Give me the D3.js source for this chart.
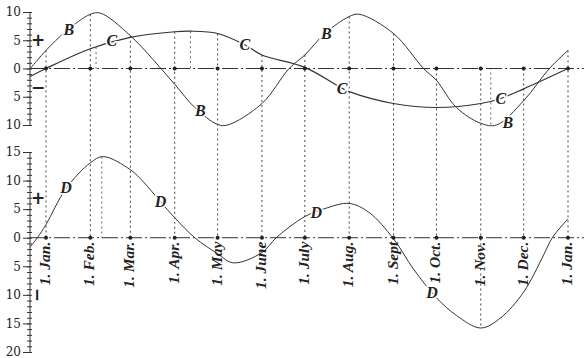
<!DOCTYPE html>
<meta charset="utf-8">
<script src="https://d3js.org/d3.v7.min.js"></script>
<style>
  body { margin: 0; background: #fff; }
  text { fill: #222; }
  .lab { font-family: "Liberation Serif", serif; font-style: italic; font-weight: bold; }
</style>
<div id="chart"></div>
<script>
  // month labels and the dates they stand for
  const months = ["1. Jan.", "1. Feb.", "1. Mar.", "1. Apr.", "1. May", "1. June", "1. July",
                  "1. Aug.", "1. Sept", "1. Oct.", "1. Nov.", "1. Dec.", "1. Jan."];
  const monthDates = ["1900-01-01", "1900-02-01", "1900-03-01", "1900-04-01", "1900-05-01", "1900-06-01",
                      "1900-07-01", "1900-08-01", "1900-09-01", "1900-10-01", "1900-11-01", "1900-12-01", "1901-01-01"];

  // upper diagram, curve B
  const seriesB = [
    ["1899-12-21", 0], ["1900-01-01", 3.2], ["1900-01-15", 6.6], ["1900-02-01", 9.6], ["1900-02-08", 9.8],
    ["1900-03-01", 5.8], ["1900-04-01", -2.8], ["1900-04-15", -6.9], ["1900-05-01", -9.9], ["1900-05-08", -10.0],
    ["1900-06-01", -6.2], ["1900-06-20", 0], ["1900-07-01", 2.4], ["1900-07-15", 6.2], ["1900-08-01", 9.2],
    ["1900-08-08", 9.6], ["1900-09-01", 6.2], ["1900-09-22", 0], ["1900-10-01", -2.1], ["1900-10-15", -6.9],
    ["1900-11-01", -9.7], ["1900-11-12", -10.0], ["1900-12-01", -5.7], ["1900-12-19", 0], ["1901-01-01", 3.2]
  ];
  // upper diagram, curve C
  const seriesC = [
    ["1899-12-21", -1.4], ["1900-01-01", 0], ["1900-02-01", 3.5], ["1900-03-01", 5.5], ["1900-04-01", 6.5],
    ["1900-04-12", 6.6], ["1900-05-01", 6.2], ["1900-05-20", 4.2], ["1900-06-01", 2.4], ["1900-07-01", 0.2],
    ["1900-07-27", -3.5], ["1900-08-01", -4.1], ["1900-09-01", -6.2], ["1900-10-01", -6.9], ["1900-11-01", -6.2],
    ["1900-11-15", -5.3], ["1900-12-01", -3.6], ["1901-01-01", 0]
  ];
  // lower diagram, curve D
  const seriesD = [
    ["1899-12-21", -1.6], ["1899-12-26", 0], ["1900-01-01", 2.3], ["1900-01-15", 8.6], ["1900-02-01", 13.1],
    ["1900-02-10", 14.2], ["1900-03-01", 11.9], ["1900-03-10", 9.8], ["1900-03-22", 6.3], ["1900-04-01", 3.5],
    ["1900-04-15", 0], ["1900-05-01", -2.8], ["1900-05-12", -4.4], ["1900-06-01", -2.6], ["1900-06-11", 0],
    ["1900-07-01", 3.7], ["1900-07-15", 5.1], ["1900-08-01", 6.0], ["1900-08-15", 4.4], ["1900-09-01", -0.2],
    ["1900-09-15", -5.5], ["1900-10-01", -10.5], ["1900-10-15", -13.6], ["1900-11-01", -15.8], ["1900-11-15", -14.0],
    ["1900-12-01", -9.5], ["1900-12-15", -3.0], ["1900-12-21", 0], ["1901-01-01", 3.3]
  ];

  // curve letters written on the curves
  const labelsB = [["1900-01-17", 6.9], ["1900-04-19", -7.4], ["1900-07-16", 6.2], ["1900-11-20", -9.6]];
  const labelsC = [["1900-02-16", 5.0], ["1900-05-20", 4.2], ["1900-07-27", -3.5], ["1900-11-15", -5.3]];
  const labelsD = [["1900-01-15", 8.8], ["1900-03-22", 6.3], ["1900-07-09", 4.5], ["1900-09-28", -9.6]];

  // extra ordinates dropped from turning points
  const extraTop = [["1900-02-05", 3.8], ["1900-04-12", 6.6], ["1900-11-08", -9.9]];
  const extraBottom = [["1900-02-09", 14.2]];

  const topTicks = [10, 5, 0, -5, -10];
  const bottomTicks = [15, 10, 5, 0, -5, -10, -15, -20];

  const width = 584, height = 358;
  const parse = d3.timeParse("%Y-%m-%d");

  const svg = d3.select("#chart").append("svg")
    .attr("width", width)
    .attr("height", height);

  const x = d3.scaleTime()
    .domain([parse("1900-01-01"), parse("1901-01-01")])
    .range([46, 568]);
  const yTop = d3.scaleLinear().domain([-10, 10]).range([125, 12]);
  const yBot = d3.scaleLinear().domain([-20, 15]).range([352, 152]);
  const axisX = 30;

  const valueAt = (series, d) => series.find(p => p[0] === d)[1];

  // dotted ordinates at the months
  const ink = "#333";
  monthDates.forEach((d, i) => {
    const top = Math.min(yTop(0), yTop(valueAt(seriesB, d)), yTop(valueAt(seriesC, d)));
    const bot = Math.max(yBot(0), i === 10 ? yBot(valueAt(seriesD, d)) : yBot(0));
    svg.append("line")
      .attr("x1", x(parse(d))).attr("x2", x(parse(d)))
      .attr("y1", top).attr("y2", bot)
      .attr("stroke", "#444").attr("stroke-width", 1)
      .attr("stroke-dasharray", "2,3");
  });
  extraTop.forEach(p => {
    svg.append("line")
      .attr("x1", x(parse(p[0]))).attr("x2", x(parse(p[0])))
      .attr("y1", yTop(p[1])).attr("y2", yTop(0))
      .attr("stroke", "#666").attr("stroke-dasharray", "2,3");
  });
  extraBottom.forEach(p => {
    svg.append("line")
      .attr("x1", x(parse(p[0]))).attr("x2", x(parse(p[0])))
      .attr("y1", yBot(p[1])).attr("y2", yBot(0))
      .attr("stroke", "#666").attr("stroke-dasharray", "2,3");
  });

  // zero lines, dash-dot
  [yTop(0), yBot(0)].forEach(y0 => {
    svg.append("line")
      .attr("x1", axisX).attr("x2", width)
      .attr("y1", y0).attr("y2", y0)
      .attr("stroke", ink).attr("stroke-width", 1)
      .attr("stroke-dasharray", "16,3,2,3");
  });

  // vertical scales
  function drawScale(y, ticks) {
    const [lo, hi] = y.domain();
    const g = svg.append("g").attr("transform", `translate(${axisX},0)`);
    g.call(d3.axisLeft(y).tickValues(d3.range(lo, hi + 1)).tickSize(3).tickFormat(""));
    g.selectAll(".tick line").attr("x2", -3).attr("x1", 2).attr("stroke", ink);
    const g2 = svg.append("g").attr("transform", `translate(${axisX},0)`);
    g2.call(d3.axisLeft(y).tickValues(ticks).tickSize(7).tickPadding(2).tickFormat(d => Math.abs(d)));
    g2.select(".domain").remove();
    g2.selectAll(".tick line").attr("stroke", ink);
    g2.selectAll(".tick text")
      .style("font-family", "'DejaVu Serif', serif")
      .style("font-size", "12px")
      .attr("fill", "#222");
    g.select(".domain").attr("stroke", ink).attr("d", `M0,${y(hi)}V${y(lo)}`);
  }
  drawScale(yTop, topTicks);
  drawScale(yBot, bottomTicks);

  // curves
  const lineTop = d3.line()
    .x(p => x(parse(p[0])))
    .y(p => yTop(p[1]))
    .curve(d3.curveCatmullRom.alpha(0.5));
  const lineBot = d3.line()
    .x(p => x(parse(p[0])))
    .y(p => yBot(p[1]))
    .curve(d3.curveCatmullRom.alpha(0.5));

  svg.append("path").datum(seriesB).attr("d", lineTop)
    .attr("fill", "none").attr("stroke", ink).attr("stroke-width", 1);
  svg.append("path").datum(seriesC).attr("d", lineTop)
    .attr("fill", "none").attr("stroke", ink).attr("stroke-width", 1.2);
  svg.append("path").datum(seriesD).attr("d", lineBot)
    .attr("fill", "none").attr("stroke", ink).attr("stroke-width", 1);

  // dots on the zero lines
  [yTop(0), yBot(0)].forEach(y0 => {
    svg.selectAll(null).data(monthDates).join("circle")
      .attr("cx", d => x(parse(d))).attr("cy", y0)
      .attr("r", 2).attr("fill", "#222");
  });

  // letters on the curves
  function letters(list, y, ch) {
    svg.selectAll(null).data(list).join("text")
      .attr("class", "lab")
      .attr("x", p => x(parse(p[0])))
      .attr("y", p => y(p[1]))
      .attr("text-anchor", "middle")
      .attr("dominant-baseline", "central")
      .style("font-size", "16px")
      .style("paint-order", "stroke")
      .attr("stroke", "#fff").attr("stroke-width", 3)
      .text(ch);
  }
  letters(labelsB, yTop, "B");
  letters(labelsC, yTop, "C");
  letters(labelsD, yBot, "D");

  // month names, turned upright along the ordinates
  svg.selectAll(null).data(monthDates).join("text")
    .attr("class", "lab")
    .attr("transform", d => `translate(${x(parse(d)) + 4},${yBot(0) + 4}) rotate(-90)`)
    .attr("text-anchor", "end")
    .style("font-size", "15.5px")
    .text((d, i) => months[i]);

  // plus and minus signs
  const signs = [["+", yTop, 5], ["\u2212", yTop, -3.2], ["+", yBot, 7], ["\u2212", yBot, -10]];
  signs.forEach(([s, y, v], i) => {
    svg.append("text")
      .attr("transform", `translate(38,${y(v)})` + (i === 3 ? " rotate(90)" : ""))
      .attr("text-anchor", "middle")
      .attr("dominant-baseline", "central")
      .style("font-family", "'DejaVu Sans', sans-serif")
      .style("font-weight", "bold")
      .style("font-size", "17px")
      .text(s);
  });
</script>
